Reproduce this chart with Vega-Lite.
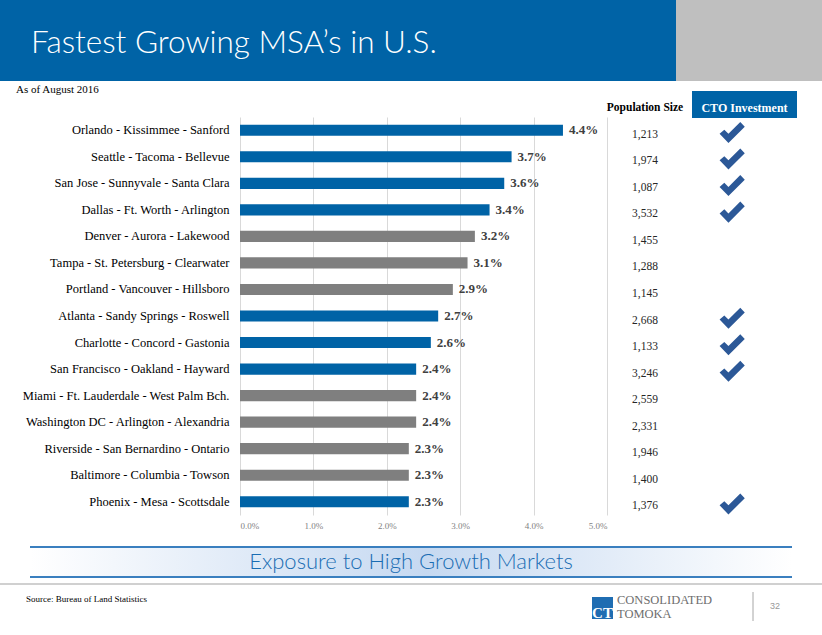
{
  "$schema": "https://vega.github.io/schema/vega-lite/v6.json",
  "width": 367,
  "height": 398,
  "autosize": "none",
  "padding": {"left": 240, "top": 117, "right": 215, "bottom": 120},
  "background": "#ffffff",
  "config": {"view": {"stroke": null}},
  "data": {
    "values": [
      {"msa": "Orlando - Kissimmee - Sanford", "growth": 0.044, "pop": 1213, "cto": "Yes"},
      {"msa": "Seattle - Tacoma - Bellevue", "growth": 0.037, "pop": 1974, "cto": "Yes"},
      {"msa": "San Jose - Sunnyvale - Santa Clara", "growth": 0.036, "pop": 1087, "cto": "Yes"},
      {"msa": "Dallas - Ft. Worth - Arlington", "growth": 0.034, "pop": 3532, "cto": "Yes"},
      {"msa": "Denver - Aurora - Lakewood", "growth": 0.032, "pop": 1455, "cto": "No"},
      {"msa": "Tampa - St. Petersburg - Clearwater", "growth": 0.031, "pop": 1288, "cto": "No"},
      {"msa": "Portland - Vancouver - Hillsboro", "growth": 0.029, "pop": 1145, "cto": "No"},
      {"msa": "Atlanta - Sandy Springs - Roswell", "growth": 0.027, "pop": 2668, "cto": "Yes"},
      {"msa": "Charlotte - Concord - Gastonia", "growth": 0.026, "pop": 1133, "cto": "Yes"},
      {"msa": "San Francisco - Oakland - Hayward", "growth": 0.024, "pop": 3246, "cto": "Yes"},
      {"msa": "Miami - Ft. Lauderdale - West Palm Bch.", "growth": 0.024, "pop": 2559, "cto": "No"},
      {"msa": "Washington DC - Arlington - Alexandria", "growth": 0.024, "pop": 2331, "cto": "No"},
      {"msa": "Riverside - San Bernardino - Ontario", "growth": 0.023, "pop": 1946, "cto": "No"},
      {"msa": "Baltimore - Columbia - Towson", "growth": 0.023, "pop": 1400, "cto": "No"},
      {"msa": "Phoenix - Mesa - Scottsdale", "growth": 0.023, "pop": 1376, "cto": "Yes"}
    ]
  },
  "layer": [
    {
      "data": {"values": [{}]},
      "mark": {"type": "rect", "color": "#0063a6"},
      "encoding": {"x": {"value": -240}, "x2": {"value": 436}, "y": {"value": -117}, "y2": {"value": -36}}
    },
    {
      "data": {"values": [{}]},
      "mark": {"type": "rect", "color": "#bfbfbf"},
      "encoding": {"x": {"value": 436}, "x2": {"value": 582}, "y": {"value": -117}, "y2": {"value": -36}}
    },
    {
      "data": {"values": [{}]},
      "mark": {"type": "text", "text": "Fastest Growing MSA’s in U.S.", "font": "Lato", "fontWeight": 300, "fontSize": 31.5, "color": "#ffffff", "align": "left", "baseline": "alphabetic"},
      "encoding": {"x": {"value": -209}, "y": {"value": -64}}
    },
    {
      "data": {"values": [{}]},
      "mark": {"type": "text", "text": "As of August 2016", "font": "Liberation Serif", "fontSize": 11, "color": "#000000", "align": "left", "baseline": "alphabetic"},
      "encoding": {"x": {"value": -224}, "y": {"value": -24}}
    },
    {
      "mark": {"type": "bar"},
      "encoding": {
        "y": {
          "field": "msa", "type": "nominal", "sort": null,
          "scale": {"paddingInner": 0.58, "paddingOuter": 0.29},
          "axis": {"title": null, "domain": false, "ticks": false, "labelPadding": 11, "labelFont": "Liberation Serif", "labelFontSize": 12.5, "labelColor": "#000000", "labelLimit": 300}
        },
        "x": {
          "field": "growth", "type": "quantitative",
          "scale": {"domain": [0, 0.05], "nice": false},
          "axis": {"title": null, "values": [0, 0.01, 0.02, 0.03, 0.04, 0.05], "format": ".1%", "grid": true, "gridColor": "#d9d9d9", "domain": false, "ticks": false, "labelFont": "Liberation Serif", "labelFontSize": 9, "labelColor": "#7f7f7f", "labelPadding": 6}
        },
        "color": {"field": "cto", "type": "nominal", "scale": {"domain": ["Yes", "No"], "range": ["#0063a6", "#7f7f7f"]}, "legend": null}
      }
    },
    {
      "mark": {"type": "text", "align": "left", "baseline": "middle", "dx": 6, "font": "Liberation Serif", "fontWeight": "bold", "fontSize": 13, "color": "#404040"},
      "encoding": {
        "y": {"field": "msa", "type": "nominal", "sort": null},
        "x": {"field": "growth", "type": "quantitative"},
        "text": {"field": "growth", "type": "quantitative", "format": ".1%"}
      }
    },
    {
      "mark": {"type": "text", "align": "center", "baseline": "middle", "dy": 4.5, "font": "Liberation Serif", "fontSize": 11.5, "color": "#262626"},
      "encoding": {
        "y": {"field": "msa", "type": "nominal", "sort": null},
        "x": {"value": 405},
        "text": {"field": "pop", "type": "quantitative", "format": ","}
      }
    },
    {
      "transform": [{"filter": "datum.cto === 'Yes'"}],
      "mark": {"type": "point", "shape": "M-1.05,0.3L-0.3,1.08L1.08,-0.3L0.7,-0.7L-0.3,0.3L-0.65,-0.05Z", "filled": true, "opacity": 1, "size": 560, "color": "#2c5897"},
      "encoding": {
        "y": {"field": "msa", "type": "nominal", "sort": null},
        "x": {"value": 492}
      }
    },
    {
      "data": {"values": [{}]},
      "mark": {"type": "text", "text": "Population Size", "font": "Liberation Serif", "fontWeight": "bold", "fontSize": 11.5, "color": "#000000", "align": "center", "baseline": "middle"},
      "encoding": {"x": {"value": 405}, "y": {"value": -9}}
    },
    {
      "data": {"values": [{}]},
      "mark": {"type": "rect", "color": "#0063a6"},
      "encoding": {"x": {"value": 452}, "x2": {"value": 557}, "y": {"value": -26}, "y2": {"value": 1}}
    },
    {
      "data": {"values": [{}]},
      "mark": {"type": "text", "text": "CTO Investment", "font": "Liberation Serif", "fontWeight": "bold", "fontSize": 12, "color": "#ffffff", "align": "center", "baseline": "middle"},
      "encoding": {"x": {"value": 504.5}, "y": {"value": -9}}
    },
    {
      "data": {"values": [{}]},
      "mark": {"type": "rect", "fill": {"gradient": "linear", "x1": 0, "y1": 0, "x2": 1, "y2": 0, "stops": [{"offset": 0, "color": "#ffffff"}, {"offset": 0.52, "color": "#c6d9f1"}, {"offset": 1, "color": "#ffffff"}]}},
      "encoding": {"x": {"value": -210}, "x2": {"value": 552}, "y": {"value": 430}, "y2": {"value": 460}}
    },
    {
      "data": {"values": [{}]},
      "mark": {"type": "rule", "color": "#3a7fbf", "strokeWidth": 2},
      "encoding": {"x": {"value": -210}, "x2": {"value": 552}, "y": {"value": 430}}
    },
    {
      "data": {"values": [{}]},
      "mark": {"type": "rule", "color": "#3a7fbf", "strokeWidth": 2},
      "encoding": {"x": {"value": -210}, "x2": {"value": 552}, "y": {"value": 460}}
    },
    {
      "data": {"values": [{}]},
      "mark": {"type": "text", "text": "Exposure to High Growth Markets", "font": "Lato", "fontWeight": 300, "fontSize": 22, "color": "#1a6db3", "align": "center", "baseline": "middle"},
      "encoding": {"x": {"value": 171}, "y": {"value": 445}}
    },
    {
      "data": {"values": [{}]},
      "mark": {"type": "rule", "color": "#d0d0d0", "strokeWidth": 2},
      "encoding": {"x": {"value": -240}, "x2": {"value": 582}, "y": {"value": 467}}
    },
    {
      "data": {"values": [{}]},
      "mark": {"type": "text", "text": "Source: Bureau of Land Statistics", "font": "Liberation Serif", "fontSize": 9, "color": "#000000", "align": "left", "baseline": "middle"},
      "encoding": {"x": {"value": -214}, "y": {"value": 481.5}}
    },
    {
      "data": {"values": [{}]},
      "mark": {"type": "rect", "color": "#1f6db2"},
      "encoding": {"x": {"value": 352}, "x2": {"value": 373}, "y": {"value": 480}, "y2": {"value": 502}}
    },
    {
      "data": {"values": [{}]},
      "mark": {"type": "text", "text": "CT", "font": "Liberation Serif", "fontWeight": "bold", "fontSize": 15, "color": "#ffffff", "align": "center", "baseline": "alphabetic"},
      "encoding": {"x": {"value": 362.5}, "y": {"value": 501}}
    },
    {
      "data": {"values": [{}]},
      "mark": {"type": "text", "text": ["CONSOLIDATED", "TOMOKA"], "lineHeight": 14, "font": "Liberation Serif", "fontSize": 12.5, "color": "#6e6e6e", "align": "left", "baseline": "alphabetic"},
      "encoding": {"x": {"value": 377}, "y": {"value": 487}}
    },
    {
      "data": {"values": [{}]},
      "mark": {"type": "rule", "color": "#a6a6a6", "strokeWidth": 1},
      "encoding": {"x": {"value": 513}, "y": {"value": 475}, "y2": {"value": 504}}
    },
    {
      "data": {"values": [{}]},
      "mark": {"type": "text", "text": "32", "font": "Liberation Sans", "fontSize": 9, "color": "#999999", "align": "left", "baseline": "middle"},
      "encoding": {"x": {"value": 530}, "y": {"value": 489}}
    }
  ]
}
